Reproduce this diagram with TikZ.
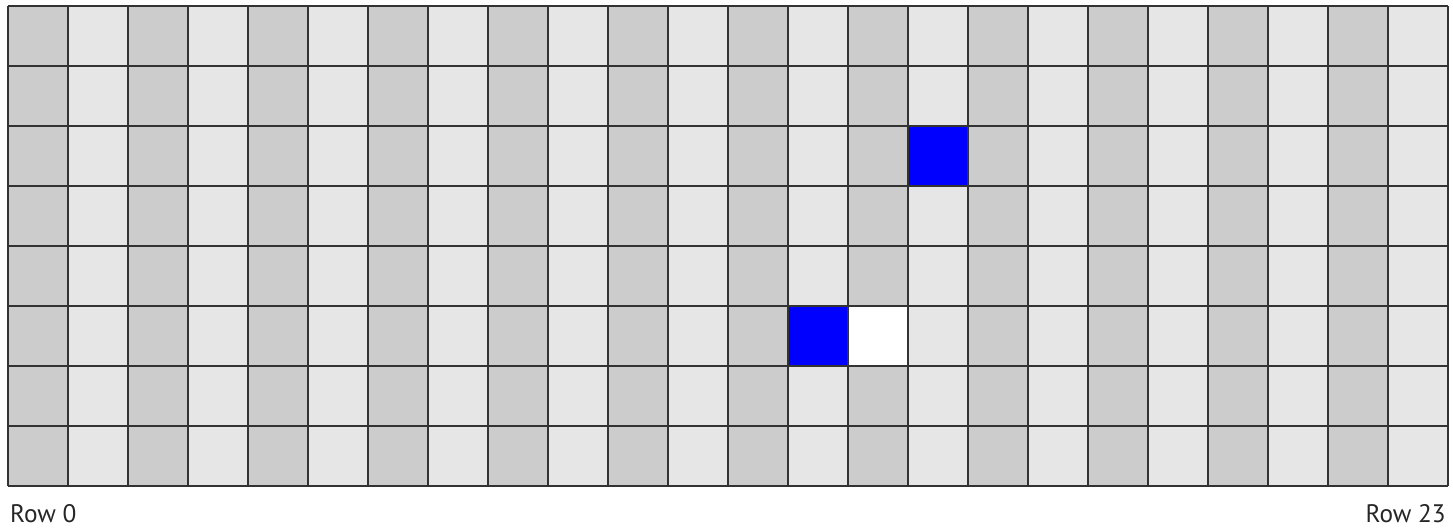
\documentclass[tikz,border=0pt]{standalone}
\usepackage{fontspec}
\setsansfont{PT Sans}
\usepackage{tikz}
\usetikzlibrary{positioning}
\definecolor{stripedark}{RGB}{204,204,204}
\definecolor{stripelight}{RGB}{230,230,230}
\definecolor{gridline}{RGB}{51,51,51}
\definecolor{cellblue}{RGB}{0,0,255}

\begin{document}
\begin{tikzpicture}[font=\sffamily, x=1cm, y=1cm]
  \useasboundingbox (-0.133,-0.717) rectangle (24.083,8.1);
  % striped columns
  \foreach \c in {0,...,23}{
     \pgfmathsetmacro{\shade}{mod(\c,2)==0 ? "stripedark" : "stripelight"}
     \fill[\shade] (\c,0) rectangle (\c+1,8);
  }
  % marked cells
  \fill[cellblue] (15,5) rectangle (16,6);
  \fill[cellblue] (13,2) rectangle (14,3);
  \fill[white] (14,2) rectangle (15,3);
  % grid lines
  \draw[gridline, line width=0.6pt] (0,0) grid (24,8);
  % labels
  \coordinate (gridsw) at (0,0);
  \coordinate (gridse) at (24,0);
  \node[anchor=north west, inner sep=0pt, text=black!85, font=\sffamily\fontsize{12}{14}\selectfont] (rowfirst) at ([xshift=0.03cm, yshift=-0.3cm]gridsw) {Row 0};
  \node[anchor=north east, inner sep=0pt, text=black!85, font=\sffamily\fontsize{12}{14}\selectfont] (rowlast) at ([xshift=-0.03cm, yshift=-0.3cm]gridse) {Row 23};
\end{tikzpicture}
\end{document}
